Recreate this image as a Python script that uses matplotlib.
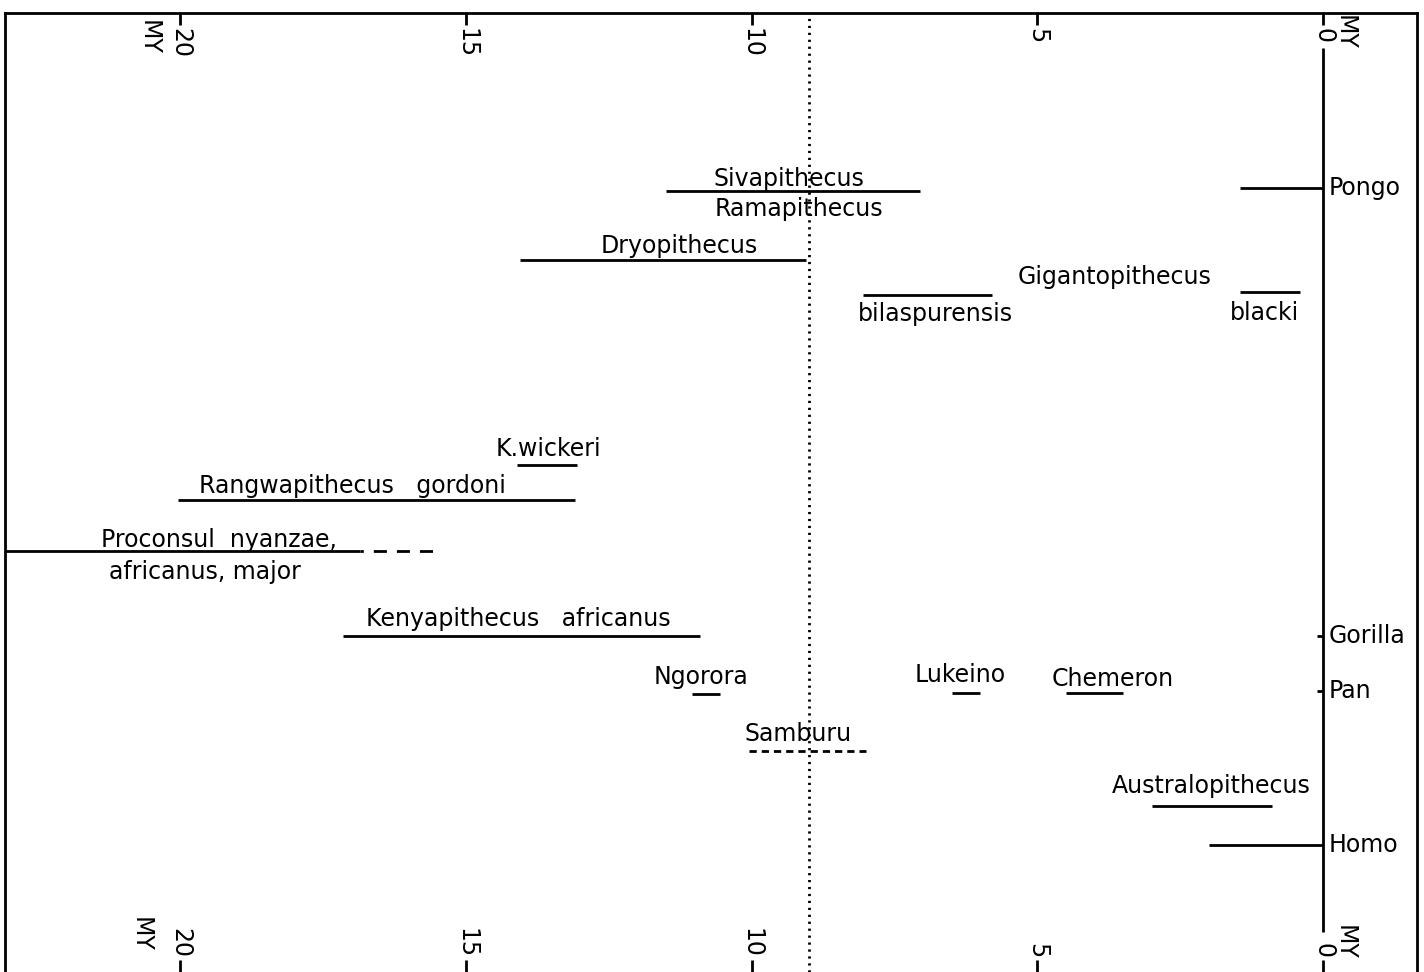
import matplotlib.pyplot as plt

# time ranges (million years ago), start -> end
taxa = ["Sivapithecus", "Pongo", "Dryopithecus", "G. bilaspurensis", "G. blacki",
        "K. wickeri", "Rangwapithecus", "Proconsul", "Kenyapithecus", "Ngorora",
        "Lukeino", "Chemeron", "Australopithecus", "Homo"]
start_my = [11.5, 1.45, 14.05, 8.05, 1.45, 14.1, 20.05, 23.5, 17.15, 11.05,
            6.5, 4.5, 3.0, 2.0]
end_my = [7.05, 0.0, 9.05, 5.8, 0.4, 13.05, 13.1, 16.85, 10.9, 10.55,
          6.0, 3.5, 0.9, 0.0]
rows = [19.1, 18.8, 26.0, 29.5, 29.2, 46.5, 50.0, 55.1, 63.6, 69.4,
        69.3, 69.3, 80.6, 84.5]

# uncertain extensions (dashed)
dashed_names = ["Proconsul ext.", "Samburu"]
dashed_start = [16.85, 10.05]
dashed_end = [15.55, 8.0]
dashed_rows = [55.1, 75.1]

# living genera marked on the 0 MY line
living = ["Pongo", "Gorilla", "Pan", "Homo"]
living_rows = [18.8, 63.6, 69.1, 84.5]
living_ticked = ["Gorilla", "Pan"]

boundary_my = 9.0
tick_my = [20, 15, 10, 5, 0]

# label text, x (MY), y (row)
labels = [
    ("Sivapithecus", 9.35, 17.9),
    ("Ramapithecus", 9.17, 20.9),
    ("Dryopithecus", 11.27, 24.6),
    ("Gigantopithecus", 3.64, 27.7),
    ("bilaspurensis", 6.79, 31.4),
    ("blacki", 1.02, 31.3),
    ("K.wickeri", 13.55, 44.9),
    ("Rangwapithecus   gordoni", 16.98, 48.6),
    ("Proconsul  nyanzae,", 19.32, 54.0),
    ("africanus, major", 19.57, 57.2),
    ("Kenyapithecus   africanus", 14.09, 61.9),
    ("Ngorora", 10.89, 67.7),
    ("Lukeino", 6.35, 67.5),
    ("Chemeron", 3.68, 67.9),
    ("Samburu", 9.19, 73.4),
    ("Australopithecus", 1.96, 78.6),
]

FS = 17
LW = 2.0

fig = plt.figure(figsize=(14.24, 9.72), dpi=100)
ax = fig.add_axes([5 / 1424, 0, 1412 / 1424, 959 / 972])
ax.set_xlim(23.07, -1.645)
ax.set_ylim(97.2, 1.3)

for s in ["top", "left", "right"]:
    ax.spines[s].set_linewidth(LW)
ax.spines["bottom"].set_visible(False)

ax.set_xticks(tick_my)
ax.set_yticks([])
ax.tick_params(axis="x", top=True, bottom=True, direction="in", length=8.5,
               width=LW, labeltop=False, labelbottom=False)

# solid ranges
ax.hlines(rows, start_my, end_my, colors="black", linewidth=LW)

# dashed ranges
ax.hlines(dashed_rows[0], dashed_start[0], dashed_end[0], colors="black",
          linewidth=LW, linestyles=(3.5, (4.7, 3.6)))
ax.hlines(dashed_rows[1], dashed_start[1], dashed_end[1], colors="black",
          linewidth=LW, linestyles=(0, (2.6, 1.8)))

# dotted boundary at 9 MY
ax.axvline(boundary_my, color="black", linewidth=LW, linestyle=(0, (0.8, 1.7)))

# present-day line
ax.vlines(0, 4.8, 93.2, colors="black", linewidth=LW)
for name, y in zip(living, living_rows):
    if name in living_ticked:
        ax.plot(0, y, marker=0, markersize=4, markeredgewidth=LW, color="black")
    ax.text(-0.1, y, name, ha="left", va="center", fontsize=FS)

for text, x, y in labels:
    ax.text(x, y, text, ha="center", va="center", fontsize=FS)

# axis numbers, rotated as on the original
for t in tick_my:
    ax.text(t, 2.8, str(t), rotation=-90, ha="center", va="top", fontsize=FS)
    ax.text(t, 95.8, str(t), rotation=-90, ha="center", va="bottom", fontsize=FS)
ax.text(20.56, 2.0, "MY", rotation=-90, ha="center", va="top", fontsize=FS)
ax.text(-0.385, 1.5, "MY", rotation=-90, ha="center", va="top", fontsize=FS)
ax.text(20.7, 95.2, "MY", rotation=-90, ha="center", va="bottom", fontsize=FS)
ax.text(-0.385, 96.0, "MY", rotation=-90, ha="center", va="bottom", fontsize=FS)

fig.savefig("out.png", dpi=100)
